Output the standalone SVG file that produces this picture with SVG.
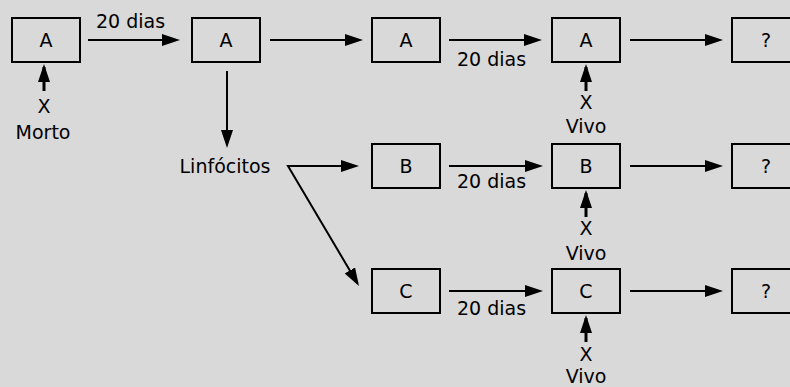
<svg xmlns="http://www.w3.org/2000/svg" width="790" height="387" viewBox="0 0 790 387">
  <style>
    .bg { fill: #d9d9d9; }
    .box { fill: none; stroke: #000; stroke-width: 2; }
    .t { font-family: "DejaVu Sans", "Liberation Sans", sans-serif; font-size: 19px; fill: #000; text-anchor: middle; }
    .ln { fill: none; stroke: #000; stroke-width: 2; stroke-linejoin: miter; }
    .up { fill: none; stroke: #000; stroke-width: 3; }
  </style>
  <defs>
    <marker id="ah" viewBox="0 0 18 12" refX="15" refY="6" markerWidth="18" markerHeight="12" markerUnits="userSpaceOnUse" orient="auto">
      <path d="M0,0 L18,6 L0,12 z" fill="#000"/>
    </marker>
    <marker id="ahs" viewBox="0 0 18 12" refX="15" refY="6" markerWidth="18" markerHeight="12" markerUnits="userSpaceOnUse" orient="auto-start-reverse">
      <path d="M0,0 L18,6 L0,12 z" fill="#000"/>
    </marker>
  </defs>
  <rect class="bg" x="0" y="0" width="790" height="387"/>

  <g id="connectors">
    <line class="ln" x1="88" y1="40" x2="177" y2="40" marker-end="url(#ah)"/>
    <line class="ln" x1="270" y1="40" x2="360" y2="40" marker-end="url(#ah)"/>
    <line class="ln" x1="449" y1="40" x2="539" y2="40" marker-end="url(#ah)"/>
    <line class="ln" x1="630" y1="40" x2="720" y2="40" marker-end="url(#ah)"/>
    <line class="ln" x1="449" y1="166" x2="540" y2="166" marker-end="url(#ah)"/>
    <line class="ln" x1="630" y1="166" x2="720" y2="166" marker-end="url(#ah)"/>
    <line class="ln" x1="449" y1="291" x2="540" y2="291" marker-end="url(#ah)"/>
    <line class="ln" x1="630" y1="291" x2="720" y2="291" marker-end="url(#ah)"/>
    <line class="ln" x1="227" y1="71" x2="227" y2="145" marker-end="url(#ah)"/>
    <path class="ln" d="M356,166 L288,166 L357.5,283.4" marker-start="url(#ahs)" marker-end="url(#ah)"/>
    <line class="up" x1="44" y1="91" x2="44" y2="67" marker-end="url(#ah)"/>
    <line class="up" x1="586" y1="91" x2="586" y2="67" marker-end="url(#ah)"/>
    <line class="up" x1="586" y1="217" x2="586" y2="193" marker-end="url(#ah)"/>
    <line class="up" x1="586" y1="342" x2="586" y2="318" marker-end="url(#ah)"/>
    <text class="t" x="130.5" y="28">20 dias</text>
    <text class="t" x="491.5" y="66">20 dias</text>
    <text class="t" x="491.5" y="188">20 dias</text>
    <text class="t" x="491.5" y="315">20 dias</text>
  </g>

  <g id="nodeA1"><rect class="box" x="12" y="18" width="68" height="44"/><text class="t" x="46" y="47">A</text></g>
  <g id="nodeA2"><rect class="box" x="192" y="18" width="68" height="44"/><text class="t" x="226" y="47">A</text></g>
  <g id="nodeA3"><rect class="box" x="372" y="18" width="68" height="44"/><text class="t" x="406" y="47">A</text></g>
  <g id="nodeA4"><rect class="box" x="552" y="18" width="68" height="44"/><text class="t" x="586" y="47">A</text></g>
  <g id="nodeQ1"><rect class="box" x="732" y="18" width="68" height="44"/><text class="t" x="766" y="47">?</text></g>

  <g id="nodeB1"><rect class="box" x="372" y="144" width="68" height="44"/><text class="t" x="406" y="173">B</text></g>
  <g id="nodeB2"><rect class="box" x="552" y="144" width="68" height="44"/><text class="t" x="586" y="173">B</text></g>
  <g id="nodeQ2"><rect class="box" x="732" y="144" width="68" height="44"/><text class="t" x="766" y="173">?</text></g>

  <g id="nodeC1"><rect class="box" x="372" y="269" width="68" height="44"/><text class="t" x="406" y="298">C</text></g>
  <g id="nodeC2"><rect class="box" x="552" y="269" width="68" height="44"/><text class="t" x="586" y="298">C</text></g>
  <g id="nodeQ3"><rect class="box" x="732" y="269" width="68" height="44"/><text class="t" x="766" y="298">?</text></g>

  <g id="linfocitos"><text class="t" x="225" y="173">Linfócitos</text></g>
  <g id="morto"><text class="t" x="44" y="113">X</text><text class="t" x="43" y="139">Morto</text></g>
  <g id="vivo1"><text class="t" x="586" y="109">X</text><text class="t" x="586" y="133">Vivo</text></g>
  <g id="vivo2"><text class="t" x="586" y="235">X</text><text class="t" x="586" y="260">Vivo</text></g>
  <g id="vivo3"><text class="t" x="586" y="361">X</text><text class="t" x="586" y="383">Vivo</text></g>
</svg>
